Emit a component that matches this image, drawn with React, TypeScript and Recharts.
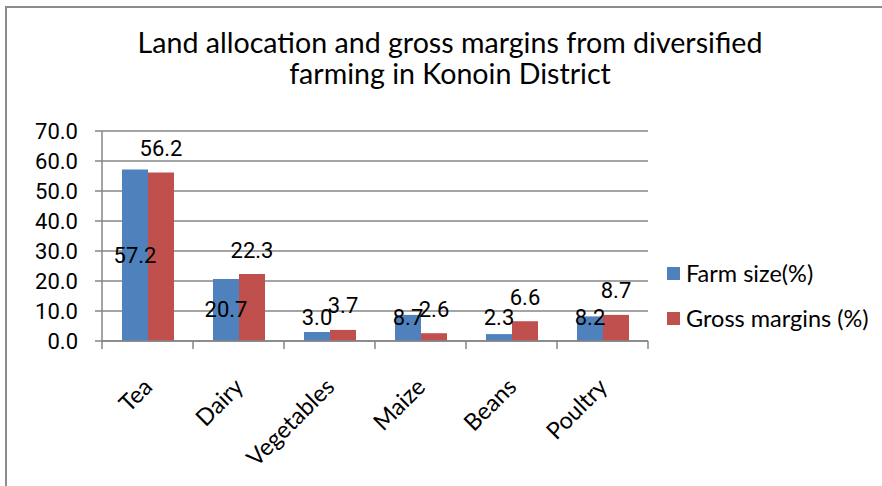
import React from "react";
import { BarChart, Bar, XAxis, YAxis, CartesianGrid, LabelList } from "recharts";

const categories = ["Tea", "Dairy", "Vegetables", "Maize", "Beans", "Poultry"];
const farmSize = [57.2, 20.7, 3.0, 8.7, 2.3, 8.2];
const grossMargins = [56.2, 22.3, 3.7, 2.6, 6.6, 8.7];
const yTicks = [0, 10, 20, 30, 40, 50, 60, 70];
const seriesNames = ["Farm size(%)", "Gross margins (%)"];
const titleLines = ["Land allocation and gross margins from diversified", "farming in Konoin District"];

const data = categories.map((name, i) => ({ name, farm: farmSize[i], gross: grossMargins[i] }));

const W = 882;
const H = 486;
const PLOT_LEFT = 102;
const PLOT_RIGHT = 648;
const PLOT_TOP = 131;
const PLOT_BOTTOM = 341;
const BAND = (PLOT_RIGHT - PLOT_LEFT) / categories.length;
const AXIS_COLOR = "#868686";
const BLUE = "#4F81BD";
const RED = "#C0504D";
const NUM_FONT = "Roboto, 'Noto Sans', sans-serif";
const TXT_FONT = "Lato, 'Noto Sans', sans-serif";

const XTick = (props: any) => {
  const { x, payload } = props;
  const idx = payload.index;
  const ax = PLOT_BOTTOM;
  const tx = x;
  const ty = ax + 41;
  return (
    <g>
      <line x1={x - BAND / 2} x2={x - BAND / 2} y1={ax} y2={ax + 8} stroke={AXIS_COLOR} strokeWidth={1.5} />
      {idx === categories.length - 1 && (
        <line x1={x + BAND / 2} x2={x + BAND / 2} y1={ax} y2={ax + 8} stroke={AXIS_COLOR} strokeWidth={1.5} />
      )}
      <text
        x={tx}
        y={ty}
        transform={`rotate(-45 ${tx} ${ty})`}
        textAnchor="end"
        dominantBaseline="central"
        fontSize={23.5}
        fontFamily={TXT_FONT}
        fill="#000"
      >
        {payload.value}
      </text>
    </g>
  );
};

const BlueLabel = (props: any) => {
  const { x, y, width, height, value } = props;
  const cy = Math.min(y + height / 2, y + height - 24);
  return (
    <text x={x + width / 2} y={cy} textAnchor="middle" dominantBaseline="central" fontSize={22} fontFamily={NUM_FONT} fill="#000">
      {Number(value).toFixed(1)}
    </text>
  );
};

const RedLabel = (props: any) => {
  const { x, y, width, value } = props;
  return (
    <text x={x + width / 2} y={y - 24} textAnchor="middle" dominantBaseline="central" fontSize={22} fontFamily={NUM_FONT} fill="#000">
      {Number(value).toFixed(1)}
    </text>
  );
};

const LegendBox = () => {
  const colors = [BLUE, RED];
  return (
    <div style={{ position: "absolute", left: 667, top: 260, width: 215, height: 80 }}>
      {seriesNames.map((n, i) => (
        <div key={n} style={{ position: "absolute", left: 0, top: i * 45, height: 26, display: "flex", alignItems: "center", whiteSpace: "nowrap" }}>
          <span style={{ display: "inline-block", width: 13, height: 13, background: colors[i], marginRight: 6 }} />
          <span style={{ fontFamily: TXT_FONT, fontSize: 23.5, color: "#000", lineHeight: "26px" }}>{n}</span>
        </div>
      ))}
    </div>
  );
};

export default function App() {
  return (
    <div style={{ position: "absolute", left: 0, top: 0, width: W, height: H, background: "#fff", overflow: "hidden" }}>
      <div style={{ position: "absolute", left: 5, top: 6, width: W, height: H, borderTop: "2px solid #8c8c8c", borderLeft: "2px solid #8c8c8c" }} />
      <BarChart
        width={W}
        height={H}
        data={data}
        margin={{ top: PLOT_TOP, right: W - PLOT_RIGHT, left: 0, bottom: 0 }}
        barCategoryGap={20}
        barGap={0}
        style={{ position: "absolute", left: 0, top: 0 }}
      >
        <CartesianGrid horizontal vertical={false} stroke={AXIS_COLOR} strokeWidth={1.5} />
        <XAxis
          dataKey="name"
          interval={0}
          height={H - PLOT_BOTTOM}
          tickLine={false}
          axisLine={{ stroke: AXIS_COLOR, strokeWidth: 1.5 }}
          tick={<XTick />}
        />
        <YAxis
          width={PLOT_LEFT}
          domain={[0, 70]}
          ticks={yTicks}
          interval={0}
          tickFormatter={(v: number) => v.toFixed(1)}
          tickSize={7}
          tickMargin={17}
          tickLine={{ stroke: AXIS_COLOR, strokeWidth: 1.5 }}
          axisLine={{ stroke: AXIS_COLOR, strokeWidth: 1.5 }}
          tick={{ fontSize: 22, fontFamily: NUM_FONT, fill: "#000" }}
        />
        <Bar dataKey="farm" name={seriesNames[0]} fill={BLUE} isAnimationActive={false}>
          <LabelList dataKey="farm" content={<BlueLabel />} />
        </Bar>
        <Bar dataKey="gross" name={seriesNames[1]} fill={RED} isAnimationActive={false}>
          <LabelList dataKey="gross" content={<RedLabel />} />
        </Bar>
      </BarChart>
      <LegendBox />
      <svg width={W} height={120} style={{ position: "absolute", left: 0, top: 0, pointerEvents: "none" }}>
        <text x={450} y={53} textAnchor="middle" fontSize={28.6} fontFamily={TXT_FONT} fill="#000">{titleLines[0]}</text>
        <text x={450} y={84} textAnchor="middle" fontSize={28.6} fontFamily={TXT_FONT} fill="#000">{titleLines[1]}</text>
      </svg>
    </div>
  );
}
